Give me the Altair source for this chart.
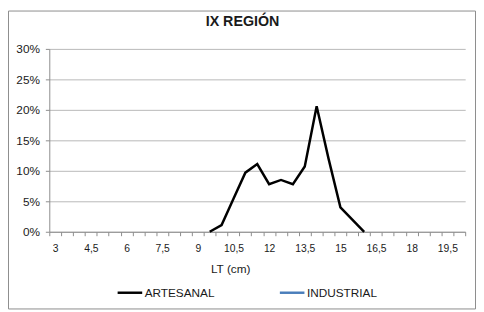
import altair as alt
import pandas as pd

# categories 3 .. 20 step 0.5 (with decimal comma)
CATS = ["3", "3,5", "4", "4,5", "5", "5,5", "6", "6,5", "7", "7,5", "8", "8,5",
        "9", "9,5", "10", "10,5", "11", "11,5", "12", "12,5", "13", "13,5",
        "14", "14,5", "15", "15,5", "16", "16,5", "17", "17,5", "18", "18,5",
        "19", "19,5", "20"]
TICK_LABELS = ["3", "4,5", "6", "7,5", "9", "10,5", "12", "13,5", "15", "16,5", "18", "19,5"]

ART_X = ["9,5", "10", "10,5", "11", "11,5", "12", "12,5", "13", "13,5", "14", "14,5", "15", "15,5", "16"]
ART_Y = [0.0, 0.011, 0.054, 0.097, 0.111, 0.078, 0.085, 0.078, 0.107, 0.206, 0.12, 0.04, 0.02, 0.0]

SERIES = ["ARTESANAL", "INDUSTRIAL"]
COLORS = ["#000000", "#4a7ebb"]

df = pd.DataFrame({"LT": ART_X, "val": ART_Y, "serie": "ARTESANAL"})

FONT = "Liberation Sans"
label_list = "[" + ",".join("'" + t + "'" for t in TICK_LABELS) + "]"

line = alt.Chart(df).mark_line(strokeWidth=2.5, strokeJoin="miter").encode(
    x=alt.X("LT:N", sort=CATS, scale=alt.Scale(domain=CATS, paddingInner=0, paddingOuter=0),
            axis=alt.Axis(title="LT (cm)", labelAngle=0, tickBand="extent",
                          labelExpr=f"indexof({label_list}, datum.value) >= 0 ? datum.label : ''",
                          labelFontSize=10.5, labelPadding=8, tickSize=4, domainColor="#8c8c8c",
                          tickColor="#8c8c8c", labelColor="#1a1a1a", grid=False,
                          titleFontSize=12, titleFontWeight="normal", titleColor="#1a1a1a",
                          titleX=184, titleY=32, titleFont=FONT, labelFont=FONT)),
    y=alt.Y("val:Q", scale=alt.Scale(domain=[0, 0.3], nice=False),
            axis=alt.Axis(title=None, format="%", values=[0, 0.05, 0.1, 0.15, 0.2, 0.25, 0.3],
                          labelFontSize=12, labelPadding=6, tickSize=4, domainColor="#8c8c8c",
                          tickColor="#8c8c8c", gridColor="#b8b8b8", labelColor="#1a1a1a",
                          labelFont=FONT)),
    color=alt.Color("serie:N", scale=alt.Scale(domain=SERIES, range=COLORS),
                    legend=alt.Legend(title=None, orient="none", legendX=68, legendY=234,
                                      direction="horizontal", columns=2, columnPadding=60,
                                      symbolType="stroke", symbolSize=625, symbolStrokeWidth=2.5,
                                      labelFontSize=12, labelFont=FONT, labelColor="#1a1a1a",
                                      labelOffset=1, padding=0)),
)

border = alt.Chart(alt.Data(values=[{}])).mark_rect(
    fill="transparent", stroke="#8c8c8c", strokeWidth=1
).encode(x=alt.value(-41.5), x2=alt.value(433.5), y=alt.value(-38.5), y2=alt.value(264.5))

chart = alt.layer(border, line).properties(
    width=423, height=186,
    title=alt.TitleParams("IX REGIÓN", fontSize=14.5, font=FONT, fontWeight="bold",
                          color="#1a1a1a", anchor="middle", dx=-15, offset=-19),
    padding={"left": 42, "top": 39, "right": 11, "bottom": 79},
    autosize=alt.AutoSizeParams(type="none"),
).configure_view(stroke=None)

chart.save("out.html", embed_options={"renderer": "svg", "actions": False})
